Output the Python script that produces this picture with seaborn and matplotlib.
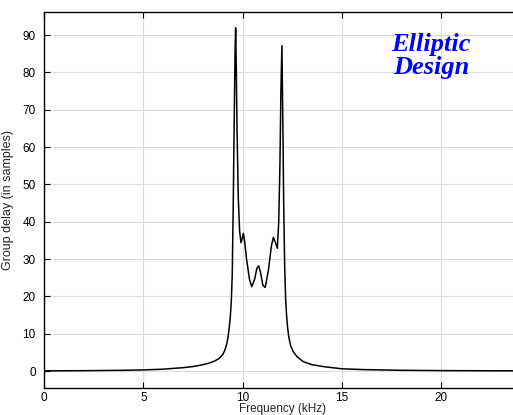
import matplotlib
matplotlib.use("Agg")
import matplotlib.pyplot as plt
import seaborn as sns
import pandas as pd

freq_khz = [0, 2, 4, 5, 6, 7, 7.5, 8, 8.3, 8.6, 8.8, 9.0, 9.1, 9.2, 9.27, 9.33,
            9.38, 9.43, 9.48, 9.53, 9.58, 9.62, 9.65, 9.68, 9.72, 9.78, 9.85,
            9.92, 9.98, 10.04, 10.12, 10.2, 10.35, 10.46, 10.6, 10.72, 10.81,
            10.9, 11.02, 11.14, 11.3, 11.45, 11.55, 11.65, 11.75, 11.82, 11.88,
            11.93, 11.98, 12.02, 12.07, 12.12, 12.17, 12.22, 12.27, 12.33, 12.42,
            12.55, 12.75, 13.06, 13.5, 14.06, 15, 16, 18, 20, 22, 24]
group_delay = [0.05, 0.1, 0.2, 0.3, 0.5, 0.9, 1.2, 1.7, 2.1, 2.7, 3.3, 4.4, 5.5,
               7.2, 9.2, 11.8, 14.5, 18.5, 26, 45, 68, 85, 92, 82, 65, 47, 37.5,
               34.4, 35.5, 36.9, 34, 30, 24.5, 22.6, 24.5, 27.5, 28.2, 26.5, 23,
               22.4, 27, 33.5, 35.8, 34.5, 32.9, 40, 55, 75, 87.2, 70, 45, 28, 19,
               14.5, 11.5, 9, 6.8, 5.2, 3.8, 2.5, 1.7, 1.2, 0.6, 0.4, 0.2, 0.12,
               0.08, 0.05]
x_ticks = [0, 5, 10, 15, 20]
y_ticks = [0, 10, 20, 30, 40, 50, 60, 70, 80, 90]

df = pd.DataFrame({"f": freq_khz, "gd": group_delay})

sns.set_theme(style="ticks")
plt.rcParams["font.family"] = ["Liberation Sans", "DejaVu Sans"]

fig = plt.figure(figsize=(5.13, 4.15), dpi=100)
ax = fig.add_axes([0.0858, 0.065, 0.929, 0.906])

sns.lineplot(data=df, x="f", y="gd", ax=ax, color="black", linewidth=1.1,
             estimator=None, sort=False)

ax.set_xlim(0, 24)
ax.set_ylim(-4.55, 96.2)
ax.set_xticks(x_ticks)
ax.set_yticks(y_ticks)
ax.grid(True, color="#dcdcdc", linewidth=0.8)
ax.set_axisbelow(True)
ax.tick_params(direction="in", top=True, right=False, length=4, width=0.8,
               labelsize=8.5, colors="black", pad=6)
ax.tick_params(axis="x", pad=3)
for s in ["left", "bottom", "top"]:
    ax.spines[s].set_color("black")
    ax.spines[s].set_linewidth(1.0)
ax.spines["right"].set_visible(False)

ax.set_xlabel("Frequency (kHz)", fontsize=8.5, labelpad=-1)
ax.set_ylabel("Group delay (in samples)", fontsize=9, labelpad=6)

ax.text(0.84, 0.92, "Elliptic\nDesign", transform=fig.transFigure,
        ha="center", va="top", color="#0000ff", fontsize=19,
        fontfamily="Liberation Serif", fontweight="bold", fontstyle="italic",
        linespacing=1.0)

fig.savefig("out.png", dpi=100)
